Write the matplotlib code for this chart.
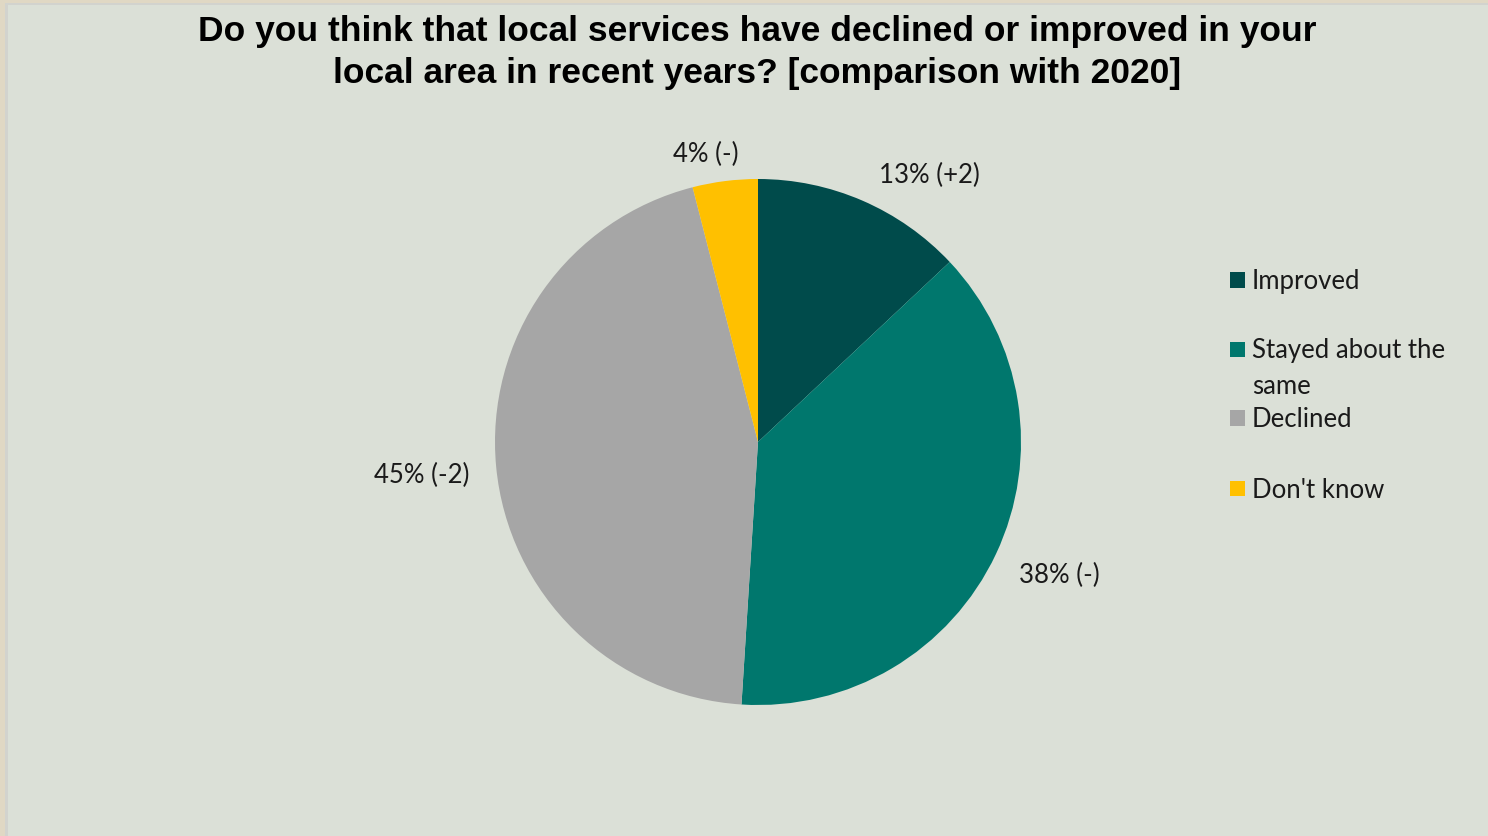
import matplotlib
matplotlib.use("Agg")
import matplotlib.pyplot as plt
from matplotlib.patches import Rectangle

categories = ["Improved", "Stayed about the\nsame", "Declined", "Don't know"]
values = [13, 38, 45, 4]
changes = ["+2", "-", "-2", "-"]
colors = ["#004B4B", "#00776D", "#A6A6A6", "#FFC000"]
title = ("Do you think that local services have declined or improved in your\n"
         "local area in recent years? [comparison with 2020]")

W, H = 1488, 836
fig = plt.figure(figsize=(W / 100, H / 100), dpi=100)
fig.patch.set_facecolor("#DBE0D7")

def fx(px):
    return px / W

def fy(py):
    return 1 - py / H

# outer frame strips
fig.patches.append(Rectangle((0, 0), fx(5), 1, transform=fig.transFigure,
                             facecolor="#E0D8C4", edgecolor="none", zorder=0))
fig.patches.append(Rectangle((fx(5), 0), fx(3), 1, transform=fig.transFigure,
                             facecolor="#D2D3CE", edgecolor="none", zorder=0))
fig.patches.append(Rectangle((0, fy(3)), 1, fy(0) - fy(3), transform=fig.transFigure,
                             facecolor="#E0D8C4", edgecolor="none", zorder=0))
fig.patches.append(Rectangle((fx(8), fy(5)), 1, fy(3) - fy(5), transform=fig.transFigure,
                             facecolor="#D2D3CE", edgecolor="none", zorder=0))

# pie axes: center (758, 442), radius 263
cx, cy, r = 758, 442, 263
ax = fig.add_axes([fx(cx - r), fy(cy + r), fx(2 * r), fy(cy - r) - fy(cy + r)])
ax.set_facecolor("none")
ax.pie(values, colors=colors, startangle=90, counterclock=False, radius=1,
       wedgeprops=dict(linewidth=0))
ax.set_xlim(-1, 1)
ax.set_ylim(-1, 1)
ax.set_aspect("auto")
ax.axis("off")

label_font = ["Lato", "DejaVu Sans"]
fs = 18.5
txt_col = "#1A1A1A"
label_pos = [(929, 175), (1059, 575), (422, 475), (706, 154)]
for v, c, (px, py) in zip(values, changes, label_pos):
    fig.text(fx(px), fy(py), f"{v}% ({c})", ha="center", va="center",
             fontsize=fs, family=label_font, color=txt_col)

for i, line in enumerate(title.split("\n")):
    fig.text(fx(757), fy(31 + 42 * i), line, ha="center", va="center",
             fontsize=25.5, fontweight="bold",
             family=["Liberation Sans", "DejaVu Sans"], color="black")

# legend
leg_y = [280, 349, 418, 488]
for lab, col, py in zip(categories, colors, leg_y):
    fig.patches.append(Rectangle((fx(1230), fy(py + 7.5)), fx(15), fy(py - 7.5) - fy(py + 7.5),
                                 transform=fig.transFigure, facecolor=col,
                                 edgecolor="none"))
    for i, line in enumerate(lab.split("\n")):
        fig.text(fx(1252), fy(py + 2 + 35 * i), line, ha="left", va="center",
                 fontsize=fs, family=label_font, color=txt_col)

fig.savefig("out.png", dpi=100, facecolor=fig.get_facecolor())
